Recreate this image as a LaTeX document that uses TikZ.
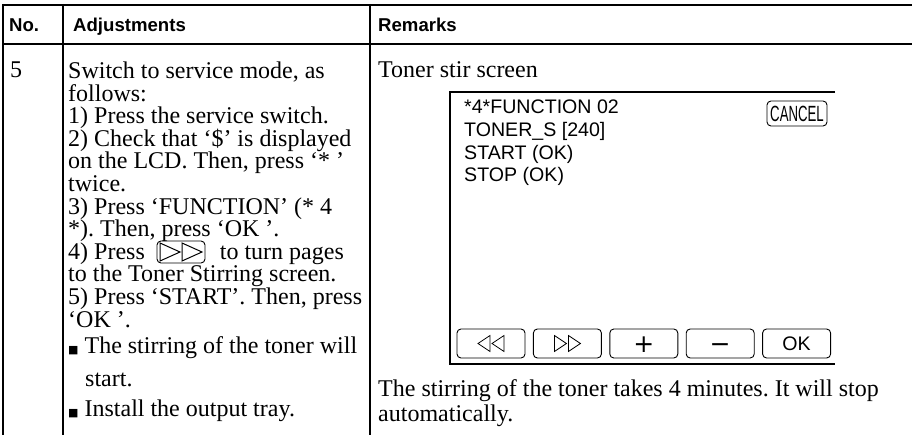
\documentclass[tikz,border=0pt]{standalone}
\usepackage{fontspec}
\setmainfont{Liberation Serif}
\setsansfont{Liberation Sans}
\newfontfamily\symfont{DejaVu Sans}
\newfontfamily\narrowsans[FakeStretch=0.6]{Liberation Sans}
\usetikzlibrary{positioning}
\frenchspacing
\newcommand\bodyfont{\fontsize{24}{22.6}\selectfont\lineskiplimit=-50pt\relax}
\newcommand\notefont{\fontsize{24}{24.5}\selectfont\lineskiplimit=-50pt\relax}
\newcommand\lcdfont{\sffamily\fontsize{19.6}{22.6}\selectfont\lineskiplimit=-50pt\relax}
\newcommand\bulletmark{{\symfont\fontsize{11}{11}\selectfont ■}\hspace{6pt}}

\begin{document}
\begin{tikzpicture}[x=1pt,y=-1pt,
  rule/.style={line width=2.2pt},
  head/.style={anchor=base west,inner sep=0,font=\sffamily\bfseries\fontsize{18.6}{22}\selectfont},
  body/.style={anchor=north west,inner sep=0,align=left,font=\bodyfont},
  lcd/.style={anchor=north west,inner sep=0,align=left,font=\lcdfont},
  key/.style={draw,rounded corners=4pt,line width=0.9pt,minimum width=68pt,
              minimum height=29pt,inner sep=0,text height=14pt,text depth=0pt,
              font=\sffamily\fontsize{19.6}{19.6}\selectfont},
  sign/.style={text height=17pt,text depth=0pt,font=\symfont\fontsize{25}{25}\selectfont},
  tri/.style={line width=0.8pt,line join=miter}
]
\useasboundingbox (0,0) rectangle (912,435);
% table rules
\draw[rule] (2,5) -- (912,5);
\draw[rule] (2,44) -- (912,44);
\foreach \x in {3,63,370} \draw[rule] (\x,4) -- (\x,435);
% header
\node[head] (hno) at (9,32) {No.};
\node[head] (hadj) at (73,32) {Adjustments};
\node[head] (hrem) at (378,32) {Remarks};
% adjustments column
\node[body,anchor=base west] (no5) at (10,78) {5};
\node[body] (steps) at (68,61.6) {Switch to service mode, as\\
follows:\\
1) Press the service switch.\\
2) Check that `\$' is displayed\\
on the LCD. Then, press `* '\\
twice.\\
3) Press `FUNCTION' (* 4\\
*). Then, press `OK '.\\
4) Press\hspace{75pt}to turn pages\\
to the Toner Stirring screen.\\
5) Press `START'. Then, press\\
`OK '.\\[3.8pt]
\bulletmark The stirring of the toner will\\[10.4pt]
\hspace{17pt}start.\\[7.4pt]
\bulletmark Install the output tray.};
\node[key,minimum width=48pt,minimum height=22pt] (pagekey) at (181,252) {};
\draw[tri,line width=1pt,shift={(pagekey.center)}]
  (-21,-9) -- (-21,9) -- (-1,0) -- cycle (1,-9) -- (1,9) -- (21,0) -- cycle;
% remarks column
\node[body,anchor=base west] (stir) at (378,78) {Toner stir screen};
\draw[line width=1.2pt] (835,92) -- (450,92) -- (450,364) -- (835,364);
\node[lcd] (lcdtext) at (464,100) {*4*FUNCTION 02\\TONER\_S [240]\\START (OK)\\STOP (OK)};
\node[key,minimum width=60pt,minimum height=25pt,text height=15.8pt,
  font=\narrowsans\fontsize{22}{22}\selectfont] (cancel) at (797,113.5) {CANCEL};
\node[key] (back) at (491,343.5) {};
\node[key,right=7.5pt of back] (fwd) {};
\node[key,sign,right=7.5pt of fwd] (plus) {+};
\node[key,sign,right=7.5pt of plus] (minus) {−};
\node[key,right=7.5pt of minus] (ok) {OK};
\draw[tri,shift={(back.center)}]
  (-13,0) -- (-1,-8) -- (-1,8) -- cycle (1,0) -- (13,-8) -- (13,8) -- cycle;
\draw[tri,shift={(fwd.center)}]
  (-13,-8) -- (-13,8) -- (-1,0) -- cycle (1,-8) -- (1,8) -- (13,0) -- cycle;
\node[body,font=\notefont] (takes) at (378,379.6)
  {The stirring of the toner takes 4 minutes. It will stop\\automatically.};
\end{tikzpicture}
\end{document}
